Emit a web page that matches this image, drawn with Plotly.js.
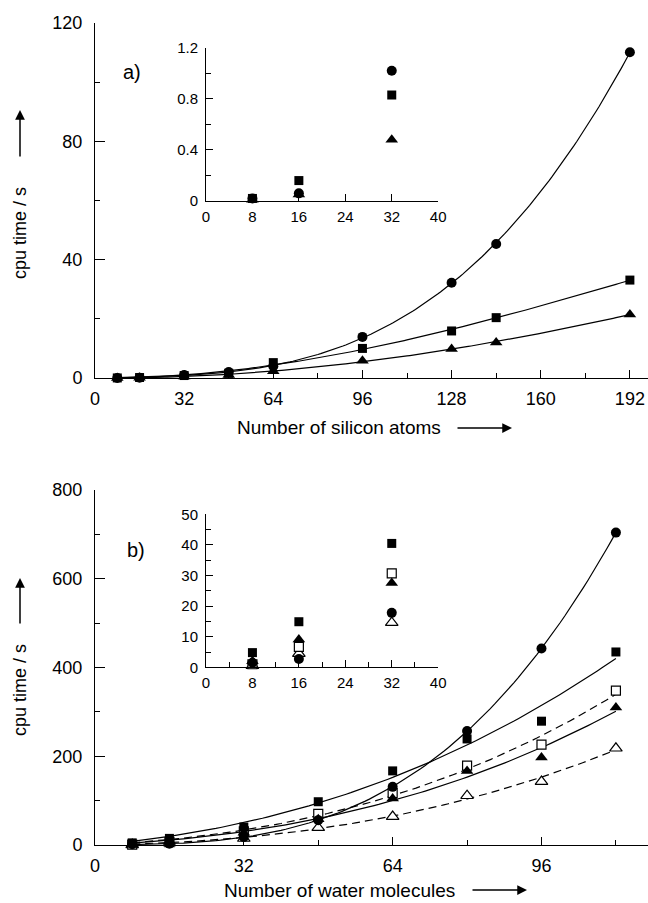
<!DOCTYPE html>
<html>
<head>
<meta charset="utf-8">
<script src="https://cdn.plot.ly/plotly-3.0.1.min.js"></script>
<style>html,body{margin:0;padding:0;background:#fff;}#chart{width:648px;height:903px;}</style>
</head>
<body>
<div id="chart"></div>
<script>
// ---- data: panel a (silicon atoms) ----
const siAtoms = [8, 16, 32, 48, 64, 96, 128, 144, 192];
const siCircle = [0.02, 0.06, 1.02, 2.0, 4.0, 13.9, 32.2, 45.3, 110.1];
const siSquare = [0.02, 0.16, 0.83, 1.6, 5.2, 10.0, 15.9, 20.4, 33.1];
const siTriangle = [0.01, 0.05, 0.48, 1.0, 2.3, 5.8, 9.8, 12.0, 21.5];

// ---- data: panel b (water molecules) ----
const waterMol = [8, 16, 32, 48, 64, 80, 96, 112];
const wCircle = [1.5, 2.7, 17.8, 56, 131, 257, 443, 704];
const wSquare = [4.8, 14.9, 40.5, 97.5, 167, 239, 279, 435];
const wOpenSquare = [1.0, 6.7, 30.7, 70, 117, 179, 226, 348];
const wTriangle = [2.0, 9.1, 27.6, 58, 105, 167, 197, 310];
const wOpenTriangle = [0.5, 4.5, 14.6, 39, 64, 111, 143, 218];

const insetMaxX = 32;

const panelLabels = ['a)', 'b)'];
const xTitles = ['Number of silicon atoms', 'Number of water molecules'];
const yTitle = 'cpu time / s';

// ---- least-squares fit (basis x, x^2, x^3) computed from the data ----
function fitCurve(xs, ys) {
  const s = 100;
  const basis = t => [t, t * t, t * t * t];
  const A = [[0,0,0],[0,0,0],[0,0,0]], b = [0,0,0];
  xs.forEach((x, k) => {
    const f = basis(x / s);
    for (let i = 0; i < 3; i++) {
      b[i] += f[i] * ys[k];
      for (let j = 0; j < 3; j++) A[i][j] += f[i] * f[j];
    }
  });
  for (let i = 0; i < 3; i++) {
    let p = i;
    for (let r = i + 1; r < 3; r++) if (Math.abs(A[r][i]) > Math.abs(A[p][i])) p = r;
    [A[i], A[p]] = [A[p], A[i]]; [b[i], b[p]] = [b[p], b[i]];
    for (let r = i + 1; r < 3; r++) {
      const m = A[r][i] / A[i][i];
      for (let c = i; c < 3; c++) A[r][c] -= m * A[i][c];
      b[r] -= m * b[i];
    }
  }
  const c = [0,0,0];
  for (let i = 2; i >= 0; i--) {
    let v = b[i];
    for (let j = i + 1; j < 3; j++) v -= A[i][j] * c[j];
    c[i] = v / A[i][i];
  }
  const cx = [], cy = [];
  const x0 = xs[0], x1 = xs[xs.length - 1];
  for (let x = x0; x <= x1 + 1e-9; x += 1) {
    const f = basis(x / s);
    cx.push(x); cy.push(Math.max(0, c[0]*f[0] + c[1]*f[1] + c[2]*f[2]));
  }
  return {x: cx, y: cy};
}

const W = 648, H = 903;
const px = v => v / W;
const py = v => 1 - v / H;
const FONT = 'Liberation Sans, Arial, Helvetica, sans-serif';

const filled = (sym, size) => ({symbol: sym, size: size, color: '#000', line: {width: 0}});
const open = (sym, size) => ({symbol: sym, size: size, color: '#fff', line: {width: 1.2, color: '#000'}});

function markers(xs, ys, mk, xa, ya) {
  return {x: xs, y: ys, type: 'scatter', mode: 'markers', marker: mk, xaxis: xa, yaxis: ya,
          cliponaxis: false, showlegend: false, hoverinfo: 'skip'};
}
function fitLine(xs, ys, dash, xa, ya) {
  const f = fitCurve(xs, ys);
  return {x: f.x, y: f.y, type: 'scatter', mode: 'lines', line: {color: '#000', width: 1.2, dash: dash},
          xaxis: xa, yaxis: ya, showlegend: false, hoverinfo: 'skip'};
}
function upTo(xs, ys, m) {
  const xx = [], yy = [];
  xs.forEach((x, i) => { if (x <= m) { xx.push(x); yy.push(ys[i]); } });
  return [xx, yy];
}

const traces = [];
// panel a main
traces.push(fitLine(siAtoms, siCircle, 'solid', 'x', 'y'));
traces.push(fitLine(siAtoms, siSquare, 'solid', 'x', 'y'));
traces.push(fitLine(siAtoms, siTriangle, 'solid', 'x', 'y'));
traces.push(markers(siAtoms, siTriangle, filled('triangle-up', 11), 'x', 'y'));
traces.push(markers(siAtoms, siSquare, filled('square', 9), 'x', 'y'));
traces.push(markers(siAtoms, siCircle, filled('circle', 10), 'x', 'y'));
// panel a inset
traces.push(markers(...upTo(siAtoms, siTriangle, insetMaxX), filled('triangle-up', 11), 'x2', 'y2'));
traces.push(markers(...upTo(siAtoms, siSquare, insetMaxX), filled('square', 9), 'x2', 'y2'));
traces.push(markers(...upTo(siAtoms, siCircle, insetMaxX), filled('circle', 10), 'x2', 'y2'));
// panel b main
traces.push(fitLine(waterMol, wCircle, 'solid', 'x3', 'y3'));
traces.push(fitLine(waterMol, wSquare, 'solid', 'x3', 'y3'));
traces.push(fitLine(waterMol, wTriangle, 'solid', 'x3', 'y3'));
traces.push(fitLine(waterMol, wOpenSquare, '8px,5px', 'x3', 'y3'));
traces.push(fitLine(waterMol, wOpenTriangle, '8px,5px', 'x3', 'y3'));
traces.push(markers(waterMol, wOpenTriangle, open('triangle-up', 11), 'x3', 'y3'));
traces.push(markers(waterMol, wOpenSquare, open('square', 9), 'x3', 'y3'));
traces.push(markers(waterMol, wTriangle, filled('triangle-up', 11), 'x3', 'y3'));
traces.push(markers(waterMol, wSquare, filled('square', 9), 'x3', 'y3'));
traces.push(markers(waterMol, wCircle, filled('circle', 10), 'x3', 'y3'));
// panel b inset
traces.push(markers(...upTo(waterMol, wOpenTriangle, insetMaxX), open('triangle-up', 11), 'x4', 'y4'));
traces.push(markers(...upTo(waterMol, wOpenSquare, insetMaxX), open('square', 9), 'x4', 'y4'));
traces.push(markers(...upTo(waterMol, wTriangle, insetMaxX), filled('triangle-up', 11), 'x4', 'y4'));
traces.push(markers(...upTo(waterMol, wSquare, insetMaxX), filled('square', 9), 'x4', 'y4'));
traces.push(markers(...upTo(waterMol, wCircle, insetMaxX), filled('circle', 10), 'x4', 'y4'));

function axis(o) {
  const a = {
    domain: o.domain, range: o.range, tick0: 0, dtick: o.dtick,
    ticks: 'inside', ticklen: o.len, tickwidth: 1, tickcolor: '#000',
    showline: true, linecolor: '#000', linewidth: 1, mirror: false,
    showgrid: false, zeroline: false, fixedrange: true, anchor: o.anchor,
    tickfont: {family: FONT, size: o.size, color: '#000'},
    ticklabelstandoff: o.standoff || 0
  };
  if (o.minor) a.minor = {dtick: o.minor, tick0: 0, ticks: 'inside', ticklen: o.mlen, tickwidth: 1, tickcolor: '#000', showgrid: false};
  return a;
}

const layout = {
  width: W, height: H, margin: {l: 0, r: 0, t: 0, b: 0},
  paper_bgcolor: '#fff', plot_bgcolor: 'rgba(0,0,0,0)',
  font: {family: FONT, color: '#000'},
  showlegend: false,
  xaxis: axis({domain: [px(95), 1], range: [0, 198.5], dtick: 32, minor: 16, len: 8, mlen: 5, anchor: 'y', size: 18, standoff: 4}),
  yaxis: axis({domain: [py(378), py(23)], range: [0, 120], dtick: 40, minor: 20, len: 10, mlen: 5, anchor: 'x', size: 18, standoff: 8}),
  xaxis2: axis({domain: [px(206), px(438.3)], range: [0, 40.02], dtick: 8, len: 7, anchor: 'y2', size: 15, standoff: 2}),
  yaxis2: axis({domain: [py(201), py(47.7)], range: [0, 1.2005], dtick: 0.4, minor: 0.2, len: 7, mlen: 5, anchor: 'x2', size: 15, standoff: 4}),
  xaxis3: axis({domain: [px(95), 1], range: [0, 118.9], dtick: 32, minor: 16, len: 8, mlen: 5, anchor: 'y3', size: 18, standoff: 4}),
  yaxis3: axis({domain: [py(845), py(490)], range: [0, 800], dtick: 200, minor: 100, len: 10, mlen: 5, anchor: 'x3', size: 18, standoff: 8}),
  xaxis4: axis({domain: [px(206), px(438.3)], range: [0, 40.02], dtick: 8, minor: 4, len: 7, mlen: 5, anchor: 'y4', size: 15, standoff: 2}),
  yaxis4: axis({domain: [py(667.3), py(514.3)], range: [0, 50.02], dtick: 10, minor: 5, len: 7, mlen: 5, anchor: 'x4', size: 15, standoff: 4}),
  annotations: [
    {text: panelLabels[0], xref: 'paper', yref: 'paper', x: px(132), y: py(72), showarrow: false, font: {size: 20}, xanchor: 'center', yanchor: 'middle'},
    {text: panelLabels[1], xref: 'paper', yref: 'paper', x: px(136), y: py(550), showarrow: false, font: {size: 20}, xanchor: 'center', yanchor: 'middle'},
    {text: xTitles[0], xref: 'paper', yref: 'paper', x: px(339), y: py(428), showarrow: false, font: {size: 19}, xanchor: 'center', yanchor: 'middle'},
    {text: xTitles[1], xref: 'paper', yref: 'paper', x: px(339), y: py(890), showarrow: false, font: {size: 19}, xanchor: 'center', yanchor: 'middle'},
    {text: yTitle, xref: 'paper', yref: 'paper', x: px(20), y: py(233), showarrow: false, textangle: -90, font: {size: 18}, xanchor: 'center', yanchor: 'middle'},
    {text: yTitle, xref: 'paper', yref: 'paper', x: px(20), y: py(690), showarrow: false, textangle: -90, font: {size: 18}, xanchor: 'center', yanchor: 'middle'},
    // arrows
    {text: '', xref: 'paper', yref: 'paper', x: px(20), y: py(110), ax: 0, ay: 48, showarrow: true, arrowhead: 2, arrowsize: 1.3, arrowwidth: 1.5, arrowcolor: '#000'},
    {text: '', xref: 'paper', yref: 'paper', x: px(20), y: py(578), ax: 0, ay: 47, showarrow: true, arrowhead: 2, arrowsize: 1.3, arrowwidth: 1.5, arrowcolor: '#000'},
    {text: '', xref: 'paper', yref: 'paper', x: px(512), y: py(428), ax: -56, ay: 0, showarrow: true, arrowhead: 2, arrowsize: 1.3, arrowwidth: 1.5, arrowcolor: '#000'},
    {text: '', xref: 'paper', yref: 'paper', x: px(527), y: py(890), ax: -56, ay: 0, showarrow: true, arrowhead: 2, arrowsize: 1.3, arrowwidth: 1.5, arrowcolor: '#000'}
  ]
};

Plotly.newPlot('chart', traces, layout, {displayModeBar: false, staticPlot: true});
</script>
</body>
</html>
